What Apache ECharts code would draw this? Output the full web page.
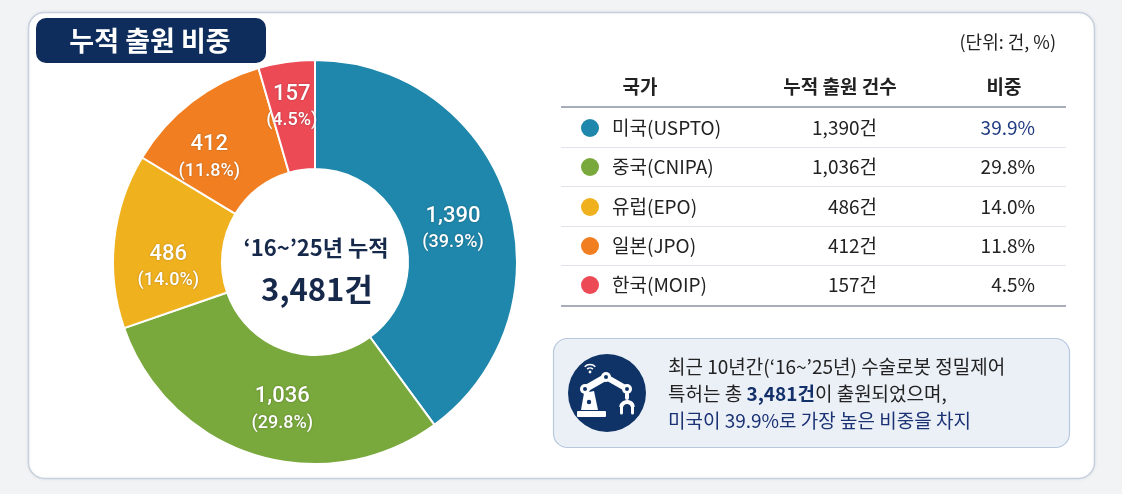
<!DOCTYPE html>
<html><head><meta charset="utf-8">
<script src="https://cdn.jsdelivr.net/npm/echarts@6/dist/echarts.min.js"></script>
<style>html,body{margin:0;padding:0;background:#f2f3f5;}#c{width:1122px;height:494px;}</style>
</head><body><div id="c"></div>
<script>
const categories = ['미국(USPTO)', '중국(CNIPA)', '유럽(EPO)', '일본(JPO)', '한국(MOIP)'];
const values = [1390, 1036, 486, 412, 157];
const percents = [39.9, 29.8, 14.0, 11.8, 4.5];
const colors = ['#1f87ab', '#79a83c', '#f0b11f', '#f17f22', '#ec4a55'];
const totalLabel = '3,481건';
const periodLabel = '‘16~’25년 누적';
const titleText = '누적 출원 비중';
const unitText = '(단위: 건, %)';
const headers = ['국가', '누적 출원 건수', '비중'];

// label nudges (style only)
const labelNudge = [[-5, 13], [12, 3], [3, 20], [-14, 14], [-2, -7]];

const FONT = '"Noto Sans CJK KR", "Noto Sans", sans-serif';
const LFONT = 'Roboto, "Noto Sans CJK KR", sans-serif';
const NAVY = '#0f2d5c';
const fmt = v => v.toLocaleString('en-US');

const g = [];
// outer panel
g.push({type:'rect', shape:{x:28.5,y:12.5,width:1066,height:466,r:16}, style:{fill:'#ffffff', stroke:'#c6d0de', lineWidth:1.5, shadowBlur:4, shadowColor:'rgba(0,0,0,0.06)'}, z:0});
// title badge
g.push({type:'rect', shape:{x:36,y:18,width:230,height:45,r:10}, style:{fill:NAVY}, z:1});
g.push({type:'text', style:{x:150,y:41,text:titleText,fill:'#fff',font:'bold 27px '+FONT,textAlign:'center',textVerticalAlign:'middle'}, z:2});
// center labels
g.push({type:'text', style:{x:316,y:248,text:periodLabel,fill:'#17294a',font:'bold 22px '+FONT,textAlign:'center',textVerticalAlign:'middle'}, z:5});
g.push({type:'text', style:{x:317,y:289,text:totalLabel,fill:'#17294a',font:'bold 31px '+FONT,textAlign:'center',textVerticalAlign:'middle'}, z:5});
// unit
g.push({type:'text', style:{x:1056,y:42,text:unitText,fill:'#222',font:'18px '+FONT,textAlign:'right',textVerticalAlign:'middle'}, z:2});
// table header
const colX = [640, 840, 1004];
headers.forEach((h,i)=>g.push({type:'text', style:{x:colX[i],y:87,text:h,fill:'#222',font:'bold 19px '+FONT,textAlign:'center',textVerticalAlign:'middle'}, z:2}));
g.push({type:'line', shape:{x1:561,y1:107,x2:1066,y2:107}, style:{stroke:'#8a93a3',lineWidth:1.5}, z:2});
const rowY = [128, 167, 207, 246, 285];
const cellFont = '19px '+FONT;
categories.forEach((c,i)=>{
  const y = rowY[i];
  g.push({type:'circle', shape:{cx:590,cy:y,r:9}, style:{fill:colors[i]}, z:2});
  g.push({type:'text', style:{x:612,y:y,text:c,fill:'#222',font:cellFont,textAlign:'left',textVerticalAlign:'middle'}, z:2});
  g.push({type:'text', style:{x:877,y:y,text:fmt(values[i])+'건',fill:'#222',font:cellFont,textAlign:'right',textVerticalAlign:'middle'}, z:2});
  g.push({type:'text', style:{x:1035,y:y,text:percents[i].toFixed(1)+'%',fill:i===0?'#1e3a80':'#222',font:cellFont,textAlign:'right',textVerticalAlign:'middle'}, z:2});
  if (i < categories.length-1) g.push({type:'line', shape:{x1:561,y1:y+19.5,x2:1066,y2:y+19.5}, style:{stroke:'#e1e4ea',lineWidth:1}, z:2});
});
g.push({type:'line', shape:{x1:561,y1:306,x2:1066,y2:306}, style:{stroke:'#8a93a3',lineWidth:1.5}, z:2});
// info box
g.push({type:'rect', shape:{x:553.5,y:338.5,width:516,height:109,r:14}, style:{fill:'#ebf0f7', stroke:'#b8c8de', lineWidth:1.2}, z:1});
g.push({type:'circle', shape:{cx:607,cy:393,r:39}, style:{fill:'#0f3366'}, z:2});
// robot icon
const W = '#ffffff';
g.push({type:'rect', shape:{x:577,y:411,width:29,height:6,r:1}, style:{fill:W}, z:3});
g.push({type:'polygon', shape:{points:[[581,410],[584,393],[594,391],[598,410]]}, style:{fill:W}, z:3});
g.push({type:'circle', shape:{cx:589,cy:402,r:2.2}, style:{fill:'#0f3366'}, z:4});
g.push({type:'line', shape:{x1:585,y1:389,x2:606,y2:377}, style:{stroke:W,lineWidth:7,lineCap:'round'}, z:3});
g.push({type:'line', shape:{x1:606,y1:377,x2:627,y2:389}, style:{stroke:W,lineWidth:6,lineCap:'round'}, z:3});
g.push({type:'line', shape:{x1:627,y1:389,x2:627,y2:398}, style:{stroke:W,lineWidth:4,lineCap:'round'}, z:3});
[[585,389],[606,377],[627,389]].forEach(p=>{
  g.push({type:'circle', shape:{cx:p[0],cy:p[1],r:5}, style:{fill:W}, z:3});
  g.push({type:'circle', shape:{cx:p[0],cy:p[1],r:2}, style:{fill:'#0f3366'}, z:4});
});
g.push({type:'arc', shape:{cx:627,cy:408,r:6,startAngle:Math.PI*1.05,endAngle:Math.PI*1.95,clockwise:true}, style:{stroke:W,lineWidth:4,fill:'none'}, z:3});
g.push({type:'line', shape:{x1:621.5,y1:407,x2:621.5,y2:413}, style:{stroke:W,lineWidth:3,lineCap:'round'}, z:3});
g.push({type:'line', shape:{x1:632.5,y1:407,x2:632.5,y2:413}, style:{stroke:W,lineWidth:3,lineCap:'round'}, z:3});
[4,7.5].forEach(r=>g.push({type:'arc', shape:{cx:590,cy:372,r:r,startAngle:Math.PI*1.25,endAngle:Math.PI*1.75,clockwise:true}, style:{stroke:W,lineWidth:1.6,fill:'none'}, z:3}));
g.push({type:'circle', shape:{cx:590,cy:372,r:1.4}, style:{fill:W}, z:3});
// info text
const infoFont = '19px '+FONT;
g.push({type:'text', style:{x:668,y:367,text:'최근 10년간(‘16~’25년) 수술로봇 정밀제어',fill:'#222',font:infoFont,textVerticalAlign:'middle'}, z:3});
g.push({type:'text', style:{x:668,y:394,text:'{a|특허는 총 }{b|3,481건}{a|이 출원되었으며,}',textVerticalAlign:'middle',
  rich:{a:{fill:'#222',font:infoFont},b:{fill:'#13306a',font:'bold 19px '+FONT}}}, z:3});
g.push({type:'text', style:{x:668,y:421,text:'미국이 39.9%로 가장 높은 비중을 차지',fill:'#1a3274',font:infoFont,textVerticalAlign:'middle'}, z:3});

const chart = echarts.init(document.getElementById('c'));
chart.setOption({
  backgroundColor:'#f2f3f5',
  animation:false,
  graphic:{elements:g},
  series:[{
    type:'pie', center:[315,262], radius:[93,202], startAngle:90, clockwise:true,
    z:3,
    itemStyle:{borderColor:'#fff', borderWidth:2},
    label:{show:true, position:'inside', formatter:p=>'{v|'+fmt(p.value)+'}\n{p|('+percents[p.dataIndex].toFixed(1)+'%)}',
      rich:{v:{color:'#fff',fontSize:22,fontWeight:500,fontFamily:LFONT,lineHeight:29,textShadowColor:'rgba(0,0,0,0.3)',textShadowBlur:2},
            p:{color:'#fff',fontSize:18,fontWeight:500,fontFamily:LFONT,lineHeight:24,textShadowColor:'rgba(0,0,0,0.3)',textShadowBlur:2}}},
    labelLine:{show:false},
    emphasis:{disabled:true},
    data: categories.map((c,i)=>({name:c, value:values[i], itemStyle:{color:colors[i]}, label:{offset:labelNudge[i]}}))
  }]
});
</script></body></html>
